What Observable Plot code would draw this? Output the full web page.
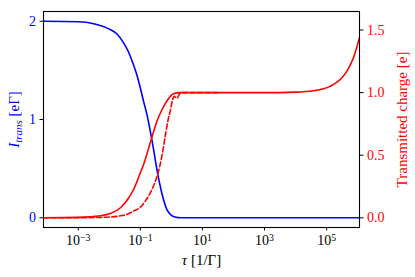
<!DOCTYPE html>
<html>
<head>
<meta charset="utf-8">
<script src="https://cdn.jsdelivr.net/npm/d3@7"></script>
<script src="https://cdn.jsdelivr.net/npm/@observablehq/plot@0.6"></script>
<style>
  html, body { margin: 0; padding: 0; background: #fff; }
  #chart { width: 415px; height: 277px; }
</style>
</head>
<body>
<div id="chart"></div>
<script>
// ---- data ----
// tau given as log10 exponents
const blueLogTau = [-4.12, -3.0, -2.5, -2.0, -1.75, -1.54, -1.4, -1.26, -1.1, -1.0, -0.9, -0.78, -0.62, -0.46, -0.3, -0.14, 0.0, 0.15, 0.3, 6.06];
const blueCurrent = [2.0, 1.995, 1.975, 1.92, 1.87, 1.78, 1.70, 1.59, 1.44, 1.32, 1.19, 1.04, 0.78, 0.48, 0.24, 0.08, 0.025, 0.005, 0.0, 0.0];

const redLogTau = [-4.12, -3.0, -2.51, -2.28, -1.97, -1.64, -1.4, -1.21, -1.0, -0.89, -0.68, -0.46, -0.30, -0.14, 0.07, 0.29, 3.0, 4.0, 4.58, 5.11, 5.44, 5.65, 5.86, 6.06];
const redCharge = [0.0, 0.003, 0.01, 0.016, 0.034, 0.08, 0.15, 0.23, 0.36, 0.43, 0.60, 0.775, 0.865, 0.935, 0.99, 1.0, 1.0, 1.004, 1.015, 1.05, 1.105, 1.17, 1.275, 1.44];

const dashLogTau = [-4.12, -2.5, -2.0, -1.64, -1.4, -1.21, -1.0, -0.85, -0.68, -0.55, -0.44, -0.30, -0.2, -0.1, -0.03, 0.03, 0.09, 0.18, 0.25, 0.32, 1.5];
const dashCharge = [0.0, 0.002, 0.006, 0.016, 0.03, 0.055, 0.085, 0.13, 0.2, 0.27, 0.35, 0.5, 0.65, 0.79, 0.86, 0.935, 0.97, 0.955, 0.985, 1.0, 1.0];

const xTickExps = [-3, -1, 1, 3, 5];
const leftTicks = [0, 1, 2];
const rightTicks = [0.0, 0.5, 1.0, 1.5];

// ---- axis geometry ----
const xDomain = [10 ** -4.12, 10 ** 6.06];
const leftDomain = [-0.0987, 2.099];
const rightMax = 1.648;
const k = leftDomain[1] / rightMax; // map charge axis onto current axis

const blue = blueLogTau.map((e, i) => ({tau: 10 ** e, v: blueCurrent[i]}));
const red = redLogTau.map((e, i) => ({tau: 10 ** e, v: redCharge[i] * k}));
const dash = dashLogTau.map((e, i) => ({tau: 10 ** e, v: dashCharge[i] * k}));

const FONT = "'Liberation Serif', 'DejaVu Serif', serif";

const plot = Plot.plot({
  width: 415,
  height: 277,
  marginLeft: 43,
  marginRight: 56,
  marginTop: 11,
  marginBottom: 50,
  style: {fontFamily: FONT, fontSize: "14px", background: "#fff", color: "black"},
  x: {type: "log", domain: xDomain},
  y: {domain: leftDomain},
  marks: [
    Plot.line(blue, {x: "tau", y: "v", stroke: "#0000ff", strokeWidth: 1.6, curve: "monotone-x", clip: true}),
    Plot.line(red, {x: "tau", y: "v", stroke: "#ff0000", strokeWidth: 1.6, curve: "monotone-x", clip: true}),
    Plot.line(dash, {x: "tau", y: "v", stroke: "#ff0000", strokeWidth: 1.6, strokeDasharray: "5,2.6", curve: "monotone-x", clip: true}),
    Plot.axisX(xTickExps.map(e => 10 ** e), {
      tickSize: 3.5, tickPadding: 4, stroke: "black", color: "black",
      tickFormat: d => "10^" + Math.round(Math.log10(d)),
      label: "tau", labelAnchor: "center", labelOffset: 37, labelArrow: "none"
    }),
    Plot.axisY(leftTicks, {
      anchor: "left", tickSize: 3.5, tickPadding: 4, stroke: "black", color: "#0000ff",
      tickFormat: d => String(d),
      label: "I", labelAnchor: "center", labelOffset: 35, labelArrow: "none"
    }),
    Plot.axisY(rightTicks.map(q => q * k), {
      anchor: "right", tickSize: 3.5, tickPadding: 4, stroke: "black", color: "#ff0000",
      tickFormat: d => (d / k).toFixed(1),
      label: "Q", labelAnchor: "center", labelOffset: 47, labelArrow: "none"
    }),
    Plot.frame({stroke: "black", strokeWidth: 1.1})
  ]
});

document.getElementById("chart").appendChild(plot);

// ---- typography post-processing (superscripts / subscripts / italics) ----
const svg = d3.select(plot);
svg.selectAll('g[aria-label="x-axis tick label"] text').each(function () {
  const t = this.textContent;
  const m = t.match(/^10\^(-?\d+)$/);
  if (!m) return;
  const exp = m[1].replace("-", "−");
  this.textContent = "";
  const s = d3.select(this);
  s.append("tspan").text("10");
  s.append("tspan").attr("dy", "-0.45em").attr("font-size", "0.7em").text(exp);
});

svg.selectAll('g[aria-label="x-axis label"] text').each(function () {
  const s = d3.select(this);
  s.text("").attr("font-size", "15px");
  s.append("tspan").attr("font-style", "italic").text("τ");
  s.append("tspan").text(" [1/Γ]");
});

svg.selectAll('g[aria-label="y-axis label"] text').each(function () {
  const s = d3.select(this);
  const txt = this.textContent;
  s.text("").attr("font-size", "15px");
  if (txt.startsWith("I")) {
    s.attr("fill", "#0000ff");
    s.append("tspan").attr("font-style", "italic").text("I");
    s.append("tspan").attr("font-style", "italic").attr("font-size", "11px").attr("dy", "3").text("trans");
    s.append("tspan").attr("dy", "-3").text(" [eΓ]");
  } else {
    s.attr("fill", "#ff0000");
    s.append("tspan").text("Transmitted charge [e]");
  }
});
</script>
</body>
</html>
